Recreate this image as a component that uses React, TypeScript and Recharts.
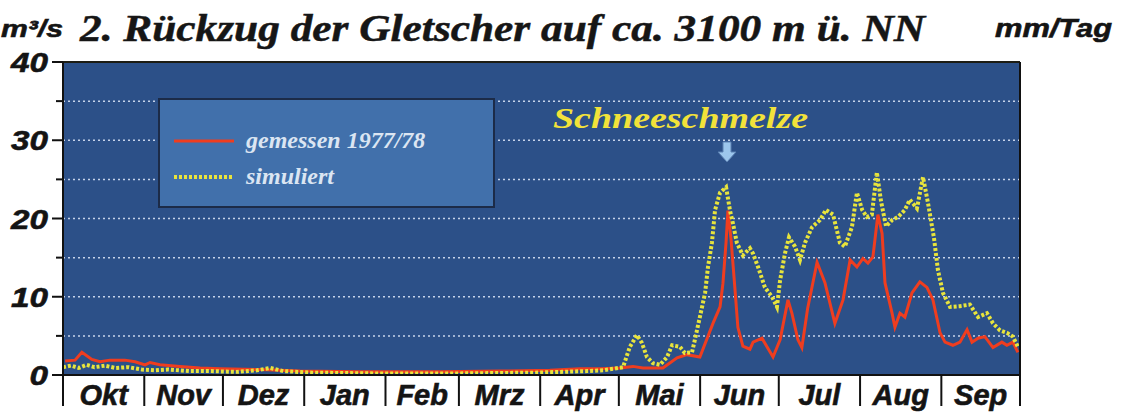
import { LineChart, Line, XAxis, YAxis, CartesianGrid, ReferenceLine, Legend } from 'recharts';

const SANS = '"Liberation Sans", Arial, sans-serif';
const SERIF = '"Liberation Serif", "Times New Roman", serif';

// hydrological year Okt 1977 - Sep 1978, x = day of year
const monthNames = ['Okt', 'Nov', 'Dez', 'Jan', 'Feb', 'Mrz', 'Apr', 'Mai', 'Jun', 'Jul', 'Aug', 'Sep'];
const monthStarts = [0, 31, 61, 92, 123, 151, 182, 212, 243, 273, 304, 335, 365];
const leftTicks = [0, 5, 10, 15, 20, 25, 30, 35, 40];
const rightTicks = [0, 2.5, 5, 7.5, 10, 12.5, 15, 17.5, 20, 22.5, 25, 27.5, 30, 32.5, 35];
const gridValues = [5, 10, 15, 20, 25, 30, 35];

// gemessen 1977/78 (m3/s)
const measuredDays = [
  0.8, 4.6, 7.2, 11, 14.1, 17.9, 23.6, 27.5, 31.3, 33.2, 37, 44.6, 52.3, 59.9, 75.1, 90.4,
  113, 143.8, 166.7, 185.7, 197.2, 204.8, 212.4, 217.4, 221.2, 228.8, 234.2, 238, 242.9, 247.9,
  250.6, 251.7, 252.9, 253.6, 254.8, 256.3, 257.4, 259.3, 262, 263.2, 266.6, 268.5, 270.8, 273.5,
  276.5, 278, 280.3, 281.8, 284, 287.6, 290.6, 294.4, 297.5, 300.2, 302.8, 305.1, 307, 308.9,
  310.8, 312.4, 313.5, 316.2, 317.3, 319.2, 321.1, 323.8, 326.8, 329.5, 331.8, 334.5, 336.4,
  339.4, 342.1, 344.8, 346.7, 349, 351.6, 354.7, 358.1, 360, 362.3, 364.2,
];
const measuredValues = [
  1.8, 1.9, 2.9, 2.0, 1.7, 1.9, 1.9, 1.7, 1.3, 1.6, 1.3, 1.1, 0.9, 0.8, 0.7, 0.5,
  0.4, 0.4, 0.5, 0.6, 0.8, 0.8, 0.9, 1.1, 0.9, 0.9, 2.2, 2.6, 2.3, 6.6,
  8.7, 11.7, 17, 21, 17.3, 10.9, 6.1, 3.7, 3.3, 4.2, 4.7, 3.6, 2.3, 4.5,
  9.6, 7.9, 4.5, 3.5, 8.5, 14.4, 11.8, 6.6, 9.6, 14.7, 13.8, 14.9, 14.3, 15.1,
  20.5, 18.1, 11.8, 7.9, 6.1, 7.9, 7.4, 10.5, 11.9, 11.2, 9.6, 5.4, 4.2,
  3.8, 4.2, 5.8, 4.2, 4.7, 4.9, 3.5, 4.2, 3.8, 4.2, 2.9,
];

// simuliert (m3/s)
const simulatedDays = [
  0, 3, 6, 9, 12, 16, 20, 25, 30, 35, 40, 48, 56, 66, 74, 79, 84, 95, 120, 150, 180, 200, 206,
  213.6, 216.2, 218.9, 220.8, 222.7, 225, 227.7, 230.4, 232.3, 235.3, 237.2, 239.9, 241, 242.9,
  244.9, 246, 247.5, 248.7, 250.6, 252.9, 254.4, 255.5, 257, 259.3, 262, 263.2, 265.1, 267.7,
  270.4, 272.3, 273.5, 275.4, 276.9, 279.2, 281.1, 283, 285.7, 288.7, 291, 293.7, 296.3, 298.2,
  300.9, 302.8, 304.8, 306.6, 308.5, 310.4, 312, 313.9, 316.2, 318.5, 321.1, 323, 325.7, 328,
  329.9, 332.2, 333.7, 335.6, 338.3, 342.1, 345.9, 349, 352.4, 354.7, 357.4, 360, 362.3, 364.2,
];
const simulatedValues = [
  1.0, 1.2, 0.9, 1.3, 1.0, 1.2, 0.9, 1.0, 0.7, 0.6, 0.7, 0.5, 0.5, 0.4, 0.6, 0.9, 0.5, 0.3, 0.2, 0.2, 0.3, 0.5, 0.6,
  1.0, 3.6, 5.1, 4.1, 2.3, 1.5, 1.3, 2.3, 3.8, 3.6, 2.8, 2.9, 4.5, 7.4,
  10.5, 13.8, 16.9, 21.1, 23.3, 24.0, 21, 19.4, 16.9, 15.3, 16.2, 15.5, 13.8, 11.2,
  10, 8.7, 12.1, 15.6, 17.6, 16.4, 14.7, 16.9, 18.9, 19.8, 21.1, 20.5, 16.9, 16.4,
  18.9, 23.3, 21.1, 20.2, 20.5, 25.9, 22.2, 19, 19.8, 20.2, 21.1, 22.4, 21.3, 25.3,
  22, 17.5, 13.4, 10.5, 8.7, 8.8, 9, 7.4, 7.9, 6.6, 5.7, 5.4, 4.9, 3.6,
];

const measuredData = measuredDays.map((day, i) => ({ day, q: measuredValues[i] }));
const simulatedData = simulatedDays.map((day, i) => ({ day, q: simulatedValues[i] }));

const monthMids = monthNames.map((_, i) => (monthStarts[i] + monthStarts[i + 1]) / 2);
const xTicks = [...monthStarts, ...monthMids].sort((a, b) => a - b);

const tickFont = {
  fontFamily: SANS,
  fontWeight: 700,
  fontStyle: 'italic' as const,
  fill: '#141414',
  stroke: '#141414',
  strokeWidth: 0.6,
};

const LeftTick = (props: any) => {
  const { x, y, payload } = props;
  const v = payload.value;
  const major = v % 10 === 0;
  const label = String(v);
  return (
    <g>
      <line x1={x - (major ? 11 : 7)} x2={x} y1={y} y2={y} stroke="#111" strokeWidth={2} />
      {major && (
        <text x={x - 15} y={y + 10} textAnchor="end" fontSize={28} textLength={label.length * 18.5} lengthAdjust="spacingAndGlyphs" {...tickFont}>
          {label}
        </text>
      )}
    </g>
  );
};

const RightTick = (props: any) => {
  const { x, y, payload } = props;
  const v = payload.value;
  const labelled = v % 5 === 0;
  const label = String(v);
  return (
    <g>
      <line x1={x} x2={x + 10} y1={y} y2={y} stroke="#111" strokeWidth={2} />
      {labelled && (
        <text x={x + 20} y={y + 10} textAnchor="start" fontSize={28} textLength={label.length * 18} lengthAdjust="spacingAndGlyphs" {...tickFont}>
          {label}
        </text>
      )}
    </g>
  );
};

const MonthTick = (props: any) => {
  const { x, y, payload } = props;
  const v = payload.value;
  if (monthStarts.includes(v)) {
    return (
      <g>
        <line x1={x} x2={x} y1={y} y2={y + 31} stroke="#111" strokeWidth={2} />
      </g>
    );
  }
  const m = monthMids.indexOf(v);
  return (
    <g>
      <text x={x} y={y + 30} textAnchor="middle" fontSize={29} {...tickFont}>
        {monthNames[m]}
      </text>
    </g>
  );
};

const LegendBox = (props: any) => {
  const items = props.payload || [];
  return (
    <div style={{ width: 337, height: 110, boxSizing: 'border-box', background: '#4170ab', border: '2px solid #1c2b48' }}>
      <svg width={333} height={106}>
        {items.map((entry: any, i: number) => {
          const cy = 41 + i * 36;
          const p = entry.payload || {};
          return (
            <g key={entry.value}>
              <line x1={14} x2={74} y1={cy} y2={cy} stroke={entry.color} strokeWidth={p.strokeWidth || 3} strokeDasharray={p.strokeDasharray} />
              <text x={86} y={cy + 7} fontSize={24} fontFamily={SERIF} fontWeight={700} fontStyle="italic" fill="#dbe5f2">
                {entry.value}
              </text>
            </g>
          );
        })}
      </svg>
    </div>
  );
};

export default function App() {
  return (
    <div style={{ position: 'absolute', left: 0, top: 0, width: 1133, height: 412, background: '#fff' }}>
      <LineChart width={1133} height={412} margin={{ top: 62, right: 0, bottom: 0, left: 0 }}>
        <CartesianGrid yAxisId="left" horizontal={false} vertical={false} fill="#2c5088" fillOpacity={1} />
        <XAxis
          dataKey="day"
          type="number"
          domain={[0, 365]}
          ticks={xTicks}
          interval={0}
          height={37}
          tickSize={0}
          tickMargin={0}
          tickLine={false}
          axisLine={{ stroke: '#111', strokeWidth: 2 }}
          tick={MonthTick}
        />
        <YAxis
          yAxisId="left"
          type="number"
          domain={[0, 40]}
          ticks={leftTicks}
          interval={0}
          width={63}
          tickSize={0}
          tickMargin={0}
          tickLine={false}
          axisLine={{ stroke: '#111', strokeWidth: 2 }}
          tick={LeftTick}
        />
        <YAxis
          yAxisId="right"
          orientation="right"
          type="number"
          domain={[0, 35]}
          ticks={rightTicks}
          interval={0}
          width={113}
          tickSize={0}
          tickMargin={0}
          tickLine={false}
          axisLine={{ stroke: '#111', strokeWidth: 2 }}
          tick={RightTick}
        />
        {gridValues.map((v) => (
          <ReferenceLine key={v} yAxisId="left" y={v} stroke="#c6d3ea" strokeWidth={1.5} strokeDasharray="2 3" />
        ))}
        <ReferenceLine yAxisId="left" y={40} stroke="#1d1d14" strokeWidth={2} />
        <Line
          yAxisId="left"
          data={measuredData}
          dataKey="q"
          name="gemessen 1977/78"
          type="linear"
          stroke="#ef3d1f"
          strokeWidth={3}
          dot={false}
          isAnimationActive={false}
        />
        <Line
          yAxisId="left"
          data={simulatedData}
          dataKey="q"
          name="simuliert"
          type="linear"
          stroke="#e8e43c"
          strokeWidth={4}
          strokeDasharray="3 2"
          dot={false}
          isAnimationActive={false}
        />
        <Legend
          layout="vertical"
          align="center"
          verticalAlign="middle"
          wrapperStyle={{ left: 158, top: 98, width: 337, height: 110 }}
          content={LegendBox}
        />
      </LineChart>
      <svg width={1133} height={412} style={{ position: 'absolute', left: 0, top: 0, pointerEvents: 'none' }}>
        <text x={1} y={37} fontSize={24} textLength={62} lengthAdjust="spacingAndGlyphs" {...tickFont}>
          m³/s
        </text>
        <text x={80} y={41} fontSize={38} textLength={845} lengthAdjust="spacingAndGlyphs" fontFamily={SERIF} fontWeight={700} fontStyle="italic" fill="#161616" stroke="#161616" strokeWidth={0.5}>
          2. Rückzug der Gletscher auf ca. 3100 m ü. NN
        </text>
        <text x={995} y={37} fontSize={25} textLength={117} lengthAdjust="spacingAndGlyphs" {...tickFont}>
          mm/Tag
        </text>
        <text x={553} y={128} fontSize={30} textLength={255} lengthAdjust="spacingAndGlyphs" fontFamily={SERIF} fontWeight={700} fontStyle="italic" fill="#f2e23a">
          Schneeschmelze
        </text>
        <polygon points="723,142 731,142 731,152 736,152 727,162 718,152 723,152" fill="#9cc6ec" stroke="#5b80b2" strokeWidth={1} />
      </svg>
    </div>
  );
}
